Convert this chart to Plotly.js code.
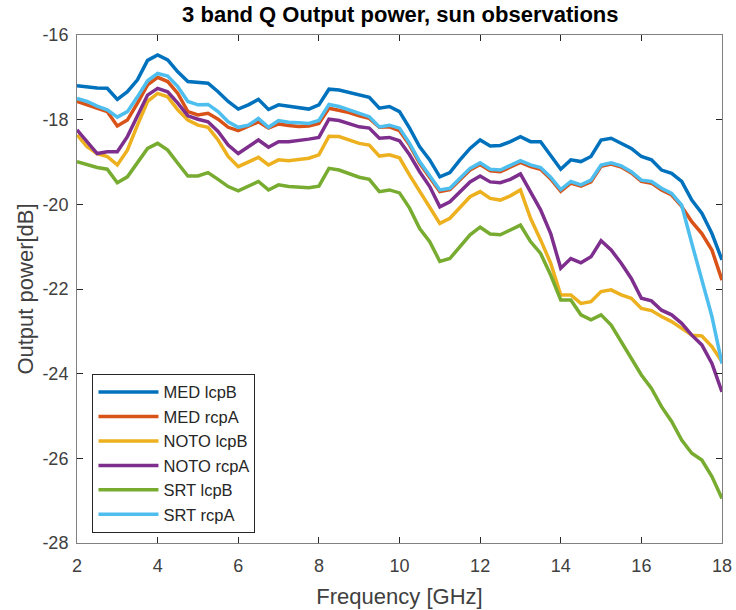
<!DOCTYPE html>
<html>
<head>
<meta charset="utf-8">
<script src="https://cdn.plot.ly/plotly-3.0.1.min.js"></script>
<style>html,body{margin:0;padding:0;background:#fff;}#chart{width:736px;height:610px;}</style>
</head>
<body>
<div id="chart"></div>
<script>
// Frequency grid in GHz (2 to 18 in 0.25 steps)
const freq = [2,2.25,2.5,2.75,3,3.25,3.5,3.75,4,4.25,4.5,4.75,5,5.25,5.5,5.75,6,6.25,6.5,6.75,7,7.25,7.5,7.75,8,8.25,8.5,8.75,9,9.25,9.5,9.75,10,10.25,10.5,10.75,11,11.25,11.5,11.75,12,12.25,12.5,12.75,13,13.25,13.5,13.75,14,14.25,14.5,14.75,15,15.25,15.5,15.75,16,16.25,16.5,16.75,17,17.25,17.5,17.75,18];

const medLcpB = [-17.20,-17.23,-17.25,-17.26,-17.52,-17.34,-17.06,-16.60,-16.47,-16.59,-16.87,-17.10,-17.13,-17.14,-17.34,-17.57,-17.75,-17.65,-17.52,-17.76,-17.65,-17.69,-17.72,-17.75,-17.65,-17.28,-17.30,-17.35,-17.42,-17.47,-17.73,-17.69,-17.81,-18.20,-18.64,-18.95,-19.35,-19.25,-18.95,-18.68,-18.48,-18.62,-18.61,-18.52,-18.40,-18.52,-18.52,-18.83,-19.17,-18.95,-18.99,-18.87,-18.48,-18.44,-18.56,-18.68,-18.87,-18.95,-19.19,-19.27,-19.46,-19.90,-20.21,-20.69,-21.31];

const medRcpA = [-17.57,-17.65,-17.73,-17.81,-18.15,-18.01,-17.61,-17.18,-17.00,-17.10,-17.38,-17.81,-17.89,-17.85,-17.99,-18.18,-18.26,-18.16,-18.05,-18.20,-18.10,-18.14,-18.16,-18.15,-18.09,-17.73,-17.77,-17.83,-17.91,-17.97,-18.18,-18.17,-18.26,-18.60,-19.03,-19.35,-19.70,-19.65,-19.43,-19.19,-19.06,-19.21,-19.23,-19.13,-19.01,-19.11,-19.17,-19.40,-19.69,-19.50,-19.57,-19.47,-19.10,-19.05,-19.12,-19.26,-19.46,-19.50,-19.66,-19.78,-20.05,-20.41,-20.69,-21.08,-21.79];

const notoLcpB = [-18.36,-18.64,-18.80,-18.87,-19.07,-18.72,-18.13,-17.57,-17.38,-17.46,-17.77,-18.01,-18.13,-18.18,-18.48,-18.87,-19.11,-18.99,-18.89,-19.07,-18.95,-18.97,-18.94,-18.91,-18.83,-18.39,-18.40,-18.48,-18.56,-18.60,-18.86,-18.83,-18.90,-19.31,-19.70,-20.06,-20.45,-20.33,-20.06,-19.82,-19.70,-19.86,-19.90,-19.80,-19.66,-20.33,-20.84,-21.39,-22.14,-22.14,-22.34,-22.30,-22.06,-22.02,-22.14,-22.22,-22.46,-22.51,-22.65,-22.77,-22.93,-23.09,-23.11,-23.36,-23.72];

const notoRcpA = [-18.24,-18.52,-18.80,-18.76,-18.76,-18.40,-17.89,-17.42,-17.26,-17.34,-17.61,-17.91,-17.99,-18.05,-18.28,-18.60,-18.80,-18.64,-18.48,-18.65,-18.52,-18.52,-18.50,-18.46,-18.42,-17.99,-18.02,-18.09,-18.17,-18.20,-18.44,-18.42,-18.50,-18.83,-19.23,-19.58,-20.06,-19.94,-19.70,-19.47,-19.33,-19.47,-19.49,-19.41,-19.28,-19.70,-20.13,-20.69,-21.51,-21.28,-21.38,-21.24,-20.86,-21.08,-21.39,-21.75,-22.22,-22.28,-22.50,-22.61,-22.81,-23.09,-23.32,-23.76,-24.43];

const srtLcpB = [-18.99,-19.07,-19.13,-19.17,-19.49,-19.35,-19.03,-18.68,-18.56,-18.72,-19.03,-19.33,-19.33,-19.25,-19.41,-19.58,-19.68,-19.58,-19.46,-19.66,-19.54,-19.58,-19.60,-19.61,-19.57,-19.15,-19.19,-19.27,-19.36,-19.41,-19.70,-19.66,-19.73,-20.09,-20.57,-20.88,-21.35,-21.28,-21.00,-20.72,-20.54,-20.70,-20.72,-20.61,-20.49,-20.88,-21.16,-21.67,-22.26,-22.26,-22.61,-22.73,-22.61,-22.85,-23.24,-23.64,-24.03,-24.35,-24.78,-25.13,-25.57,-25.88,-26.04,-26.43,-26.95];

const srtRcpA = [-17.50,-17.57,-17.68,-17.77,-17.94,-17.81,-17.46,-17.08,-16.91,-16.97,-17.22,-17.57,-17.65,-17.64,-17.81,-18.05,-18.18,-18.13,-17.97,-18.18,-18.02,-18.06,-18.07,-18.09,-18.02,-17.64,-17.69,-17.77,-17.87,-17.93,-18.17,-18.13,-18.20,-18.56,-18.99,-19.31,-19.66,-19.62,-19.39,-19.15,-19.02,-19.17,-19.19,-19.09,-18.97,-19.07,-19.13,-19.36,-19.65,-19.46,-19.54,-19.43,-19.07,-19.02,-19.09,-19.23,-19.43,-19.46,-19.62,-19.74,-20.02,-20.92,-21.79,-22.65,-23.76];

const seriesNames = ["MED lcpB","MED rcpA","NOTO lcpB","NOTO rcpA","SRT lcpB","SRT rcpA"];
const seriesData = [medLcpB, medRcpA, notoLcpB, notoRcpA, srtLcpB, srtRcpA];
const seriesColors = ["#0072BD","#D95319","#EDB120","#7E2F8E","#77AC30","#4DBEEE"];

const xTicks = [2,4,6,8,10,12,14,16,18];
const yTicks = [-28,-26,-24,-22,-20,-18,-16];

const traces = seriesNames.map((n,i)=>({
  type:'scatter', mode:'lines', name:n, x:freq, y:seriesData[i],
  line:{color:seriesColors[i], width:3.5}
}));

const FONT = 'Liberation Sans, Arial, sans-serif';
const axisCommon = {
  showgrid:false, zeroline:false, showline:true, linecolor:'#808080', linewidth:1,
  mirror:'ticks', ticks:'inside', ticklen:6, tickcolor:'#262626', tickwidth:1,
  tickfont:{family:FONT, size:18, color:'#404040'}
};

const layout = {
  width:736, height:610,
  margin:{l:77, r:14, t:35, b:67},
  paper_bgcolor:'#fff', plot_bgcolor:'#fff',
  showlegend:true,
  title:{text:'<b>3 band Q Output power, sun observations</b>', x:0.5439, xanchor:'center', y:0.976, yanchor:'middle',
    font:{family:FONT, size:22, color:'#000'}},
  xaxis:Object.assign({}, axisCommon, {range:[2,18], tickvals:xTicks, ticktext:xTicks.map(String),
    ticklabelstandoff:6,
    title:{text:'Frequency [GHz]', standoff:14, font:{family:FONT, size:22, color:'#404040'}}}),
  yaxis:Object.assign({}, axisCommon, {range:[-28,-16], tickvals:yTicks, ticktext:yTicks.map(String),
    ticklabelstandoff:4,
    title:{text:'Output power[dB]', standoff:2, font:{family:FONT, size:22, color:'#404040'}}}),
  legend:{x:0.024, y:0.333, xanchor:'left', yanchor:'top', bgcolor:'#fff', bordercolor:'#262626', borderwidth:1,
    itemwidth:60, tracegroupgap:0,
    font:{family:FONT, size:16.5, color:'#262626'}}
};

Plotly.newPlot('chart', traces, layout, {displayModeBar:false, staticPlot:true});
</script>
</body>
</html>
